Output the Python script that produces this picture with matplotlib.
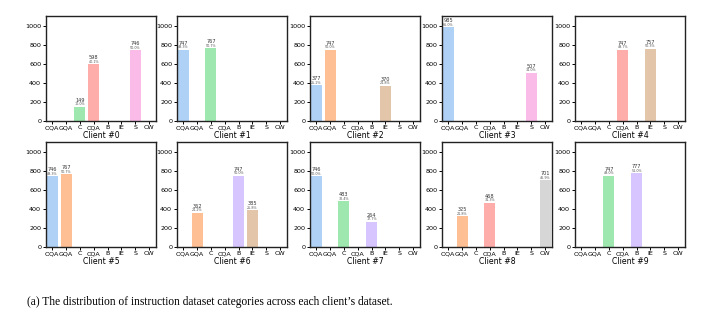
import numpy as np
import matplotlib.pyplot as plt

# category short names and seaborn "pastel" colours
categories = ["OQA", "GQA", "C", "CQA", "B", "IE", "S", "CW"]
colors = ["#a1c9f4", "#ffb482", "#8de5a1", "#ff9f9b",
          "#d0bbff", "#debb9b", "#fab0e4", "#cfcfcf"]

# number of samples per category, one list per client
client_0 = [0, 0, 149, 598, 0, 0, 746, 0]
client_1 = [747, 0, 767, 0, 0, 0, 0, 0]
client_2 = [377, 747, 0, 0, 0, 370, 0, 0]
client_3 = [985, 0, 0, 0, 0, 0, 507, 0]
client_4 = [0, 0, 0, 747, 0, 757, 0, 0]
client_5 = [746, 767, 0, 0, 0, 0, 0, 0]
client_6 = [0, 362, 0, 0, 747, 385, 0, 0]
client_7 = [746, 0, 483, 0, 264, 0, 0, 0]
client_8 = [0, 325, 0, 468, 0, 0, 0, 701]
client_9 = [0, 0, 747, 0, 777, 0, 0, 0]
clients = [client_0, client_1, client_2, client_3, client_4,
           client_5, client_6, client_7, client_8, client_9]

caption = "(a) The distribution of instruction dataset categories across each client\u2019s dataset."

W, H = 708, 334
fig = plt.figure(figsize=(W / 100, H / 100), dpi=100)

lefts = [46, 177, 310, 442, 575]
tops = [16, 142]
aw, ah = 110, 105

x = np.arange(len(categories))
for i, counts in enumerate(clients):
    row, col = divmod(i, 5)
    ax = fig.add_axes([lefts[col] / W, 1 - (tops[row] + ah) / H, aw / W, ah / H])
    ax.bar(x, counts, width=0.8, color=colors, alpha=0.85)
    total = sum(counts)
    for xi, c in zip(x, counts):
        if c == 0:
            continue
        ax.text(xi, c + 42, str(c), ha="center", va="bottom", fontsize=3.6,
                color="#333333")
        ax.text(xi, c + 6, f"{100 * c / total:.1f}%", ha="center",
                va="bottom", fontsize=2.4, color="#555555")
    ax.set_xlim(-0.45, 7.5)
    ax.set_ylim(0, 1105)
    ax.set_xticks(x)
    ax.set_xticklabels(categories, fontsize=4.6)
    ax.set_yticks(range(0, 1001, 200))
    ax.tick_params(axis="y", labelsize=4.6, length=2, width=0.7, pad=1.5)
    ax.tick_params(axis="x", length=2, width=0.7, pad=1.2)
    ax.set_xlabel(f"Client #{i}", fontsize=5.6, labelpad=0.3)
    for s in ax.spines.values():
        s.set_linewidth(1.0)
        s.set_color("#222222")

fig.text(27 / W, 1 - 302 / H, caption, fontsize=8.3, family="Liberation Serif",
         ha="left", va="center")

fig.savefig("out.png", dpi=100)
